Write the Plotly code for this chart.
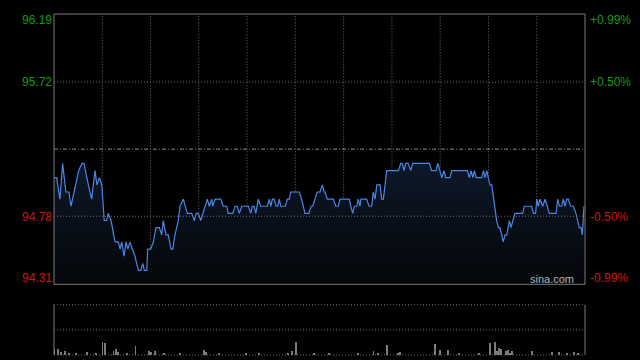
import plotly.graph_objects as go

# ---------------- data ----------------
prev_close = 95.25
y_min, y_max = 94.303, 96.197

# minutes since open (0..241) of each vertex of the intraday price line
price_t = [0, 1.2, 2.7, 3.9, 5.4, 6.8, 7.7, 9.2, 11.2, 12.7,
           13.6, 15.6, 17.1, 18.6, 19.5, 20.6, 21.7, 22.8, 23.9, 24.6,
           25.9, 27.7, 29.2, 30.0, 30.7, 31.8, 32.7, 33.5, 34.5, 35.5,
           36.8, 37.5, 38.4, 39.4, 40.3, 41.0, 42.1, 42.5, 43.9, 45.1,
           46.3, 47.8, 48.9, 49.6, 50.8, 51.9, 53.1, 53.9, 54.9, 56.4,
           57.2, 58.7, 60.5, 62.5, 63.7, 64.5, 65.5, 66.6, 67.5, 68.5,
           69.6, 70.5, 71.6, 72.0, 73.1, 75.7, 76.8, 78.4, 79.1, 81.1,
           82.2, 83.2, 84.1, 85.2, 88.2, 89.3, 90.0, 90.8, 91.6, 92.7,
           93.8, 96.8, 97.7, 98.4, 99.1, 99.9, 100.8, 101.5, 102.3, 102.9,
           105.0, 105.9, 106.8, 107.4, 111.3, 112.4, 113.9, 115.7, 116.7, 117.4,
           118.5, 119.5, 120.7, 121.8, 122.6, 123.0, 124.1, 126.8, 127.9, 129.0,
           129.8, 134.0, 134.7, 135.6, 136.3, 137.4, 138.1, 138.9, 139.3, 141.9,
           143.0, 144.2, 144.9, 145.7, 146.5, 148.0, 148.7, 149.5, 151.0, 156.3,
           157.4, 158.1, 158.9, 159.6, 160.8, 161.9, 162.8, 170.4, 171.4, 173.4,
           174.2, 175.2, 176.0, 177.0, 177.8, 179.7, 180.5, 187.6, 188.5, 189.3,
           190.1, 190.8, 191.6, 194.1, 194.9, 195.6, 196.4, 197.1, 197.9, 198.7,
           200.2, 200.9, 201.7, 202.4, 203.9, 204.7, 205.5, 206.7, 207.4, 209.2,
           212.7, 213.5, 216.8, 217.6, 218.6, 219.1, 219.8, 220.6, 221.8, 222.9,
           223.9, 224.8, 227.9, 228.6, 229.4, 230.4, 231.2, 231.9, 232.7, 233.4,
           234.5, 235.7, 236.9, 237.7, 238.4, 239.2, 239.8, 240.5]

price_v = [95.05, 95.05, 94.90, 95.15, 94.95, 94.95, 94.85, 94.95, 95.10, 95.15,
           95.15, 95.00, 94.90, 95.10, 95.00, 95.05, 95.00, 94.75, 94.75, 94.80,
           94.75, 94.60, 94.60, 94.55, 94.60, 94.50, 94.60, 94.55, 94.60, 94.55,
           94.50, 94.45, 94.40, 94.40, 94.45, 94.40, 94.40, 94.55, 94.55, 94.60,
           94.70, 94.70, 94.65, 94.75, 94.65, 94.65, 94.55, 94.55, 94.65, 94.75,
           94.85, 94.90, 94.80, 94.80, 94.75, 94.80, 94.80, 94.75, 94.80, 94.85,
           94.90, 94.85, 94.90, 94.85, 94.90, 94.90, 94.85, 94.85, 94.80, 94.80,
           94.85, 94.85, 94.80, 94.85, 94.85, 94.80, 94.85, 94.85, 94.80, 94.90,
           94.85, 94.85, 94.90, 94.85, 94.90, 94.90, 94.85, 94.85, 94.90, 94.85,
           94.85, 94.90, 94.90, 94.95, 94.95, 94.90, 94.80, 94.80, 94.85, 94.85,
           94.90, 94.95, 94.95, 95.00, 94.95, 94.95, 94.90, 94.90, 94.85, 94.85,
           94.90, 94.90, 94.85, 94.80, 94.85, 94.85, 94.90, 94.85, 94.90, 94.90,
           94.85, 94.85, 94.95, 94.90, 95.00, 95.00, 94.90, 94.90, 95.10, 95.10,
           95.15, 95.15, 95.10, 95.15, 95.15, 95.10, 95.15, 95.15, 95.10, 95.10,
           95.15, 95.10, 95.05, 95.10, 95.05, 95.05, 95.10, 95.10, 95.05, 95.10,
           95.05, 95.10, 95.05, 95.05, 95.10, 95.05, 95.10, 95.05, 95.00, 95.00,
           94.80, 94.75, 94.70, 94.70, 94.60, 94.65, 94.65, 94.75, 94.70, 94.80,
           94.80, 94.85, 94.85, 94.80, 94.80, 94.90, 94.85, 94.90, 94.85, 94.90,
           94.85, 94.80, 94.80, 94.90, 94.85, 94.85, 94.90, 94.85, 94.90, 94.90,
           94.85, 94.85, 94.80, 94.75, 94.70, 94.70, 94.65, 94.85]

vol_t = [0, 2, 3, 5, 7, 10, 15, 19, 22, 23,
         27, 28, 29, 33, 37, 43, 44, 46, 50, 57,
         68, 69, 75, 87, 93, 106, 108, 110, 118, 125,
         138, 145, 147, 151, 156, 157, 173, 175, 179, 184,
         193, 198, 200, 201, 202, 203, 205, 206, 207, 208,
         217, 226, 229, 233, 236, 238]
vol_v = [1200, 1200, 600, 800, 400, 400, 600, 400, 2700, 2500,
         800, 1200, 600, 400, 1900, 800, 600, 800, 400, 400,
         1000, 600, 400, 400, 400, 400, 800, 2600, 400, 400,
         400, 800, 400, 2000, 400, 600, 2200, 1000, 1000, 400,
         400, 2400, 2600, 800, 1400, 1200, 800, 1000, 400, 800,
         800, 600, 600, 400, 600, 400]
vol_max = 10000

left_labels = ["96.19", "95.72", "94.78", "94.31"]
label_vals = [96.19, 95.72, 94.78, 94.31]
right_labels = ["+0.99%", "+0.50%", "-0.50%", "-0.99%"]
label_colors = ["#139a13", "#139a13", "#d01414", "#d01414"]
label_shift = [-4.5, 0, -0.5, 5]

# ---------------- figure ----------------
FONT = "Liberation Sans Narrow, Arial Narrow, Liberation Sans, Arial, sans-serif"
GRID = "#6f6f6f"
FRAME = "#7c7c7c"

fig = go.Figure()
fig.add_trace(go.Scatter(
    x=price_t, y=price_v, mode="lines",
    line=dict(color="#4a86e2", width=1.2),
    fill="tozeroy",
    fillgradient=dict(type="vertical",
                      colorscale=[[0, "#040609"], [1, "#0e1829"]],
                      start=y_min, stop=95.15),
    xaxis="x", yaxis="y", hoverinfo="skip", showlegend=False))

fig.add_trace(go.Bar(
    x=vol_t, y=vol_v, width=0.42,
    marker=dict(color="#7c7c7c", line=dict(width=0)),
    xaxis="x", yaxis="y2", hoverinfo="skip", showlegend=False))

shapes = []
# price pane frame
shapes.append(dict(type="rect", xref="x domain", yref="y domain", x0=0, x1=1, y0=0, y1=1,
                   line=dict(color=FRAME, width=1), layer="above"))
# vertical dotted grid
for k in range(1, 11):
    shapes.append(dict(type="line", xref="x domain", yref="y domain", x0=k / 11, x1=k / 11,
                       y0=0, y1=1, line=dict(color=GRID, width=1, dash="1px,2px"), layer="below"))
# horizontal dotted grid
for v in (95.72, 94.78):
    shapes.append(dict(type="line", xref="x domain", yref="y", x0=0, x1=1, y0=v, y1=v,
                       line=dict(color=GRID, width=1, dash="1px,2px"), layer="above"))
# previous close
shapes.append(dict(type="line", xref="x domain", yref="y", x0=0, x1=1, y0=prev_close, y1=prev_close,
                   line=dict(color="#8a8a8a", width=1, dash="4px,2px,1px,2px"), layer="above"))
# volume pane
for xx in (0, 1):
    shapes.append(dict(type="line", xref="x domain", yref="y2 domain", x0=xx, x1=xx, y0=0, y1=1,
                       line=dict(color=FRAME, width=1)))
for yy in (0, 0.5, 1):
    shapes.append(dict(type="line", xref="x domain", yref="y2 domain", x0=0, x1=1, y0=yy, y1=yy,
                       line=dict(color=GRID, width=1, dash="1px,2px"), layer="below"))

annotations = []
for txt, v, c, s in zip(left_labels, label_vals, label_colors, label_shift):
    annotations.append(dict(text=txt, xref="paper", yref="y", x=0, y=v, xanchor="right",
                            yanchor="middle", xshift=0, yshift=s, showarrow=False,
                            font=dict(family=FONT, size=12, color=c)))
for txt, v, c, s in zip(right_labels, label_vals, label_colors, label_shift):
    annotations.append(dict(text=txt, xref="paper", yref="y", x=1, y=v, xanchor="left",
                            yanchor="middle", xshift=3, yshift=s, showarrow=False,
                            font=dict(family=FONT, size=12, color=c)))
annotations.append(dict(text="sina.com", xref="paper", yref="y domain", x=0.983, y=0.0,
                        xanchor="right", yanchor="bottom", yshift=-3, showarrow=False,
                        font=dict(family="Liberation Sans, Arial, sans-serif", size=11, color="#b4b4b4")))

fig.update_layout(
    width=640, height=360,
    margin=dict(l=54, r=55, t=14, b=4, pad=0),
    paper_bgcolor="#000000", plot_bgcolor="#000000",
    showlegend=False, bargap=0,
    xaxis=dict(range=[0, 241], visible=False, fixedrange=True),
    yaxis=dict(range=[y_min, y_max], domain=[0.2096, 1], visible=False, anchor="x"),
    yaxis2=dict(range=[0, vol_max], domain=[0.003, 0.15], visible=False, anchor="x"),
    shapes=shapes, annotations=annotations,
)

fig.write_html("out.html")
